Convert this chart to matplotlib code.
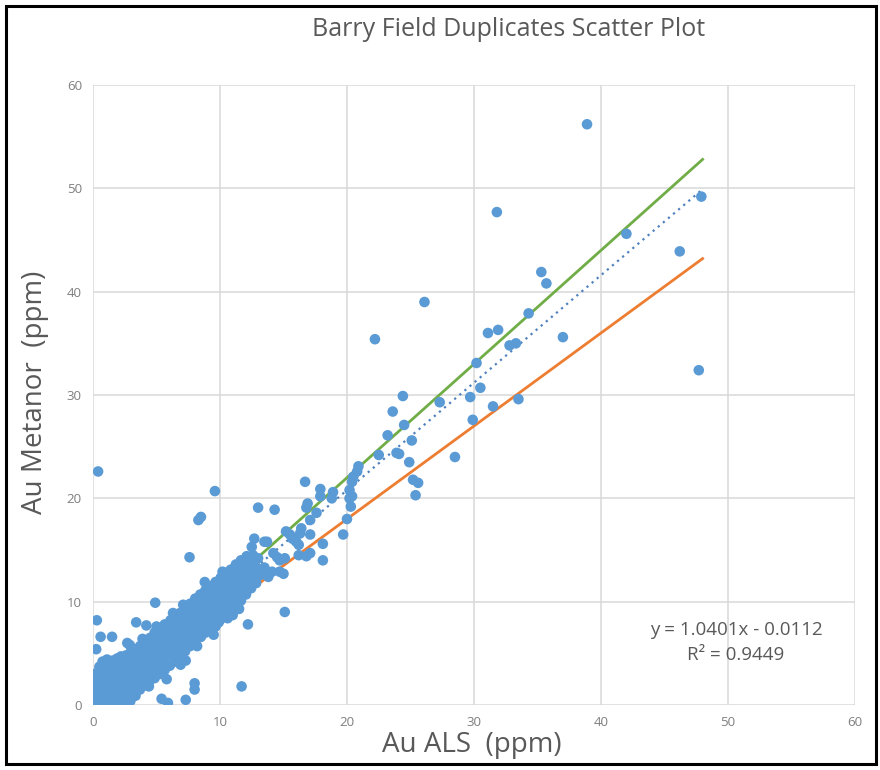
import matplotlib
matplotlib.use("Agg")
import matplotlib.pyplot as plt
from matplotlib.patches import Rectangle
import numpy as np

# ---- data (Au ALS ppm, Au Metanor ppm) ----
blob_x = [0.05,0.1,0.08,0.12,0.1,0.15,
          0.4,0.35,0.45,0.4,0.38,0.42,0.5,
          0.75,0.7,0.8,0.72,0.78,0.7,0.8,0.75,
          1.1,1.05,1.15,1.1,1.2,1.05,1.15,1.1,
          1.45,1.5,1.4,1.55,1.5,1.45,1.5,1.55,
          1.85,1.8,1.9,1.8,1.85,1.9,1.8,1.9,
          2.2,2.25,2.15,2.2,2.3,2.2,2.25,2.2,
          2.6,2.55,2.65,2.6,2.5,2.6,2.7,2.6,
          2.95,3.0,2.9,3.0,2.95,3.05,2.9,3.0]
blob_y = [0.1,0.7,1.3,1.9,2.5,3.0,
          0.2,0.8,1.4,2.0,2.6,3.2,3.7,
          0.1,0.6,1.2,1.8,2.4,3.0,3.6,4.2,
          0.3,0.9,1.5,2.1,2.7,3.3,3.9,4.4,
          0.1,0.7,1.3,1.9,2.5,3.1,3.7,4.3,
          0.2,0.8,1.4,2.0,2.6,3.2,3.8,4.5,
          0.3,1.0,1.6,2.2,2.8,3.4,4.0,4.7,
          0.2,0.9,1.5,2.2,2.9,3.5,4.1,4.8,
          0.4,1.1,1.8,2.5,3.2,3.9,4.6,5.2]

band_x = [3.35,3.3,3.4,3.3,3.4,3.35,
          3.7,3.75,3.65,3.7,3.8,3.7,
          4.05,4.1,4.0,4.15,4.05,4.1,
          4.45,4.4,4.5,4.45,4.4,4.5,
          4.85,4.8,4.9,4.8,4.9,4.85,
          5.25,5.2,5.3,5.2,5.3,5.25,
          5.65,5.6,5.7,5.6,5.7,5.65,
          6.05,6.1,6.0,6.1,6.0,6.1,
          6.45,6.4,6.5,6.4,6.5,6.45,
          6.85,6.8,6.9,6.8,6.9,6.85,
          7.25,7.2,7.3,7.2,7.3,7.25,
          7.65,7.6,7.7,7.6,7.7,7.65,
          8.05,8.1,8.0,8.1,8.0,8.05,
          8.45,8.4,8.5,8.4,8.5,8.45,
          8.85,8.8,8.9,8.8,8.9,8.85,
          9.25,9.2,9.3,9.2,9.3,9.25,
          9.65,9.6,9.7,9.6,9.7,9.65,
          10.05,10.1,10.0,10.1,10.0,10.05,
          10.45,10.4,10.5,10.4,10.5,10.45,
          10.85,10.8,10.9,10.8,10.9,10.85,
          11.25,11.2,11.3,11.2,11.3,11.25,
          11.65,11.6,11.7,11.6,11.7,11.65,
          12.05,12.1,12.0,12.1,12.0,12.1,
          12.45,12.5,12.4,12.5,
          12.85,12.9,12.8,
          3.9,5.0,6.3,7.1,9.0,10.2,11.0,5.8,6.9,8.2,9.9,11.5]
band_y = [0.9,1.8,2.6,3.4,4.3,5.1,
          1.5,2.4,3.2,4.0,4.9,5.7,
          1.9,2.8,3.6,4.5,5.3,6.2,
          2.3,3.2,4.1,4.9,5.8,6.5,
          2.6,3.6,4.5,5.4,6.3,7.0,
          3.0,4.0,4.9,5.8,6.7,7.4,
          3.4,4.4,5.3,6.2,7.1,7.8,
          3.8,4.8,5.7,6.6,7.5,8.2,
          4.2,5.2,6.1,7.0,7.9,8.5,
          4.8,5.7,6.5,7.4,8.3,8.9,
          5.2,6.1,7.0,7.8,8.7,9.3,
          5.7,6.6,7.4,8.3,9.1,9.8,
          6.2,7.0,7.9,8.7,9.6,10.3,
          6.6,7.5,8.3,9.2,10.0,10.7,
          7.0,7.9,8.8,9.6,10.5,11.1,
          7.4,8.3,9.2,10.1,10.9,11.5,
          7.6,8.7,9.6,10.5,11.3,11.9,
          8.3,9.1,10.0,10.9,11.7,12.3,
          8.8,9.6,10.5,11.3,12.1,12.8,
          9.2,10.1,10.9,11.8,12.5,13.1,
          9.6,10.5,11.4,12.2,13.0,13.6,
          10.1,11.0,11.8,12.7,13.4,14.0,
          10.7,11.5,12.3,13.1,13.9,14.4,
          11.3,12.1,12.9,13.7,
          11.8,12.6,13.4,
          6.4,7.6,8.9,9.7,11.5,12.9,8.7,2.5,3.9,5.7,8.0,9.3]

mid_x = [13.0,14.3,16.9,16.8,17.9,20.2,20.2,20.3,17.1,17.6,20.0,19.7,
         15.2,15.5,15.7,16.0,16.3,16.4,17.1,16.2,18.1,18.1,17.1,16.2,16.8,
         14.7,14.2,14.5,15.1,13.7,12.7,12.5,14.1,14.7,15.0,16.7,17.9,18.9,18.8,
         20.9,20.8,20.5,20.4,20.4,15.1,12.2,11.7,9.6,8.3,8.5,7.6,4.9,8.8,9.5,
         7.3,8.0,8.0,5.4,5.9,7.3,0.3,0.6,1.5,0.25,3.4,2.7,2.9,4.2,0.4,10.6,
         8.5,4.4,11.3,11.6,11.9,11.1,12.1,12.4,12.8,13.2,13.5,13.0,12.6,13.5,
         13.4,13.8]
mid_y = [19.1,18.9,19.5,19.1,20.2,20.8,20.0,19.2,17.9,18.6,18.0,16.5,
         16.8,16.5,16.1,15.8,16.6,17.1,16.5,15.5,15.6,14.0,14.7,14.5,14.4,
         14.0,14.7,14.3,14.2,15.8,16.1,15.3,12.9,12.9,12.7,21.6,20.9,20.6,20.0,
         23.1,22.6,22.1,21.6,20.2,9.0,7.8,1.8,20.7,17.9,18.2,14.3,9.9,11.9,6.8,
         4.3,2.1,1.5,0.6,0.2,0.5,8.2,6.6,6.6,5.4,8.0,6.0,5.8,7.7,22.6,8.4,
         6.6,1.8,12.5,13.2,13.7,13.0,12.3,13.4,12.0,12.6,13.3,14.2,14.5,15.8,
         13.2,12.4]

high_x = [22.2,24.4,23.6,24.5,23.2,25.1,22.5,23.9,24.1,28.5,24.9,25.2,25.6,
          25.4,26.1,27.3,29.7,30.5,30.2,29.9,31.5,33.5,31.1,31.9,32.8,33.3,
          34.3,35.3,35.7,37.0,31.8,38.9,42.0,46.2,47.9,47.7]
high_y = [35.4,29.9,28.4,27.1,26.1,25.6,24.2,24.4,24.3,24.0,23.5,21.8,21.5,
          20.3,39.0,29.3,29.8,30.7,33.1,27.6,28.9,29.6,36.0,36.3,34.8,35.0,
          37.9,41.9,40.8,35.6,47.7,56.2,45.6,43.9,49.2,32.4]

slope, intercept, r2 = 1.0401, -0.0112, 0.9449
upper_factor, lower_factor = 1.1, 0.9
line_end = 48.0

title = "Barry Field Duplicates Scatter Plot"
xlabel = "Au ALS  (ppm)"
ylabel = "Au Metanor  (ppm)"
ticks = [0, 10, 20, 30, 40, 50, 60]

x_all = np.array(blob_x + band_x + mid_x + high_x)
y_all = np.array(blob_y + band_y + mid_y + high_y)

plt.rcParams['font.family'] = ['Open Sans', 'DejaVu Sans']

fig = plt.figure(figsize=(8.8, 7.7), dpi=100)
ax = fig.add_axes([93/880, 1-705/770, (855-93)/880, (705-85)/770])

xs = np.array([0.0, line_end])
ax.plot(xs, upper_factor*xs, color='#70ad47', lw=2.0, zorder=2)
ax.plot(xs, lower_factor*xs, color='#ed7d31', lw=2.0, zorder=2)
xt = np.array([0.0, 47.9])
ax.plot(xt, slope*xt + intercept, color='#4f81bd', lw=1.6, ls=(0, (1, 2)), zorder=2)
ax.scatter(x_all, y_all, s=58, color='#5b9bd5', edgecolors='none', zorder=3)

ax.set_xlim(0, 60)
ax.set_ylim(0, 60)
ax.set_xticks(ticks)
ax.set_yticks(ticks)
ax.grid(True, color='#d9d9d9', lw=1.1)
ax.set_axisbelow(True)
for s in ax.spines.values():
    s.set_visible(False)
ax.tick_params(length=0, labelsize=9.5, colors='#7f7f7f', pad=8)

fig.text(509/880, 1-29/770, title, ha='center', va='center', fontsize=18, color='#595959')
fig.text(472/880, 1-745/770, xlabel, ha='center', va='center', fontsize=20, color='#595959')
fig.text(35/880, 1-392/770, ylabel, ha='center', va='center', fontsize=20, color='#595959', rotation=90)
fig.text(736/880, 1-630/770, "y = 1.0401x - 0.0112", ha='center', va='center', fontsize=13.5, color='#595959')
fig.text(736/880, 1-655/770, "R² = 0.9449", ha='center', va='center', fontsize=13.5, color='#595959')

fig.patches.append(Rectangle((6/880, 1-764/770), (876-6)/880, (764-6)/770, transform=fig.transFigure,
                             fill=False, edgecolor='black', lw=2.2))

fig.savefig("out.png", dpi=100)
